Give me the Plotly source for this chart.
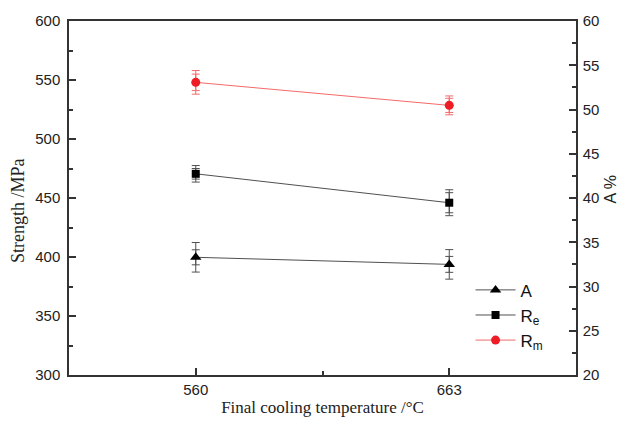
import plotly.graph_objects as go

categories = ["560", "663"]
x_pos = [0, 1]

rm_vals = [548.0, 528.5]
rm_err_outer = [10.0, 8.0]
rm_err_inner = [7.0, 6.0]

re_vals = [470.5, 446.0]
re_err_outer = [7.0, 11.0]
re_err_inner = [4.5, 8.5]

a_vals = [33.3, 32.5]
a_err_outer = [1.67, 1.67]
a_err_inner = [0.85, 0.9]

fig = go.Figure()

gray = "#505050"
red_line = "#f46a6a"
red_mark = "#ee1c25"

# inner error-bar caps (no markers)
fig.add_trace(go.Scatter(x=x_pos, y=a_vals, yaxis="y2", mode="markers", showlegend=False,
                         marker=dict(opacity=0, size=1),
                         error_y=dict(type="data", array=a_err_inner, color=gray, thickness=1, width=4)))
fig.add_trace(go.Scatter(x=x_pos, y=re_vals, mode="markers", showlegend=False,
                         marker=dict(opacity=0, size=1),
                         error_y=dict(type="data", array=re_err_inner, color=gray, thickness=1, width=4)))
fig.add_trace(go.Scatter(x=x_pos, y=rm_vals, mode="markers", showlegend=False,
                         marker=dict(opacity=0, size=1),
                         error_y=dict(type="data", array=rm_err_inner, color=red_line, thickness=1, width=4)))

fig.add_trace(go.Scatter(x=x_pos, y=a_vals, yaxis="y2", mode="lines+markers", name="A",
                         line=dict(color=gray, width=1),
                         marker=dict(symbol="triangle-up", size=10, color="black"),
                         error_y=dict(type="data", array=a_err_outer, color=gray, thickness=1, width=4)))
fig.add_trace(go.Scatter(x=x_pos, y=re_vals, mode="lines+markers", name="R<sub>e</sub>",
                         line=dict(color=gray, width=1),
                         marker=dict(symbol="square", size=8, color="black"),
                         error_y=dict(type="data", array=re_err_outer, color=gray, thickness=1, width=4)))
fig.add_trace(go.Scatter(x=x_pos, y=rm_vals, mode="lines+markers", name="R<sub>m</sub>",
                         line=dict(color=red_line, width=1),
                         marker=dict(symbol="circle", size=9, color=red_mark),
                         error_y=dict(type="data", array=rm_err_outer, color=red_line, thickness=1, width=4)))

axis_col = "#333333"
tick_font = dict(family="Liberation Sans, Arial", size=15, color="#222222")

fig.update_layout(
    width=622, height=426,
    margin=dict(l=69, r=46, t=19, b=48),
    paper_bgcolor="white", plot_bgcolor="white",
    showlegend=True,
    legend=dict(x=0.792, y=0.29, xanchor="left", yanchor="top",
                font=dict(family="Liberation Sans, Arial", size=17, color="#111111"),
                bgcolor="rgba(0,0,0,0)", tracegroupgap=2, itemwidth=40),
    xaxis=dict(range=[-0.5, 1.5], tickvals=x_pos, ticktext=categories,
               showline=True, linecolor=axis_col, linewidth=1.5, mirror=True,
               ticks="inside", ticklen=7, tickcolor=axis_col, tickwidth=1.5,
               minor=dict(tickvals=[0.5], ticks="inside", ticklen=4, tickcolor=axis_col),
               showgrid=False, zeroline=False, tickfont=tick_font,
               title=dict(text="Final cooling temperature /°C", standoff=4,
                          font=dict(family="Liberation Serif, Times New Roman", size=17, color="#222222"))),
    yaxis=dict(range=[300, 600], dtick=50, tick0=300,
               showline=True, linecolor=axis_col, linewidth=1.5,
               ticks="inside", ticklen=7, tickcolor=axis_col, tickwidth=1.5,
               minor=dict(dtick=25, ticks="inside", ticklen=4, tickcolor=axis_col),
               showgrid=False, zeroline=False, tickfont=tick_font, ticklabelstandoff=4),
    yaxis2=dict(range=[20, 60], dtick=5, tick0=20, overlaying="y", side="right",
                showline=True, linecolor=axis_col, linewidth=1.5,
                ticks="inside", ticklen=7, tickcolor=axis_col, tickwidth=1.5,
                minor=dict(dtick=2.5, ticks="inside", ticklen=4, tickcolor=axis_col),
                showgrid=False, zeroline=False, tickfont=tick_font, ticklabelstandoff=2),
    annotations=[
        dict(text="Strength /MPa", xref="paper", yref="paper", x=-0.0996, y=0.465,
             xanchor="center", yanchor="middle", textangle=-90, showarrow=False,
             font=dict(family="Liberation Serif, Times New Roman", size=18, color="#222222")),
        dict(text="A %", xref="paper", yref="paper", x=1.069, y=0.524,
             xanchor="center", yanchor="middle", textangle=-90, showarrow=False,
             font=dict(family="Liberation Sans, Arial", size=16, color="#222222")),
    ],
)

fig.write_html("out.html")
